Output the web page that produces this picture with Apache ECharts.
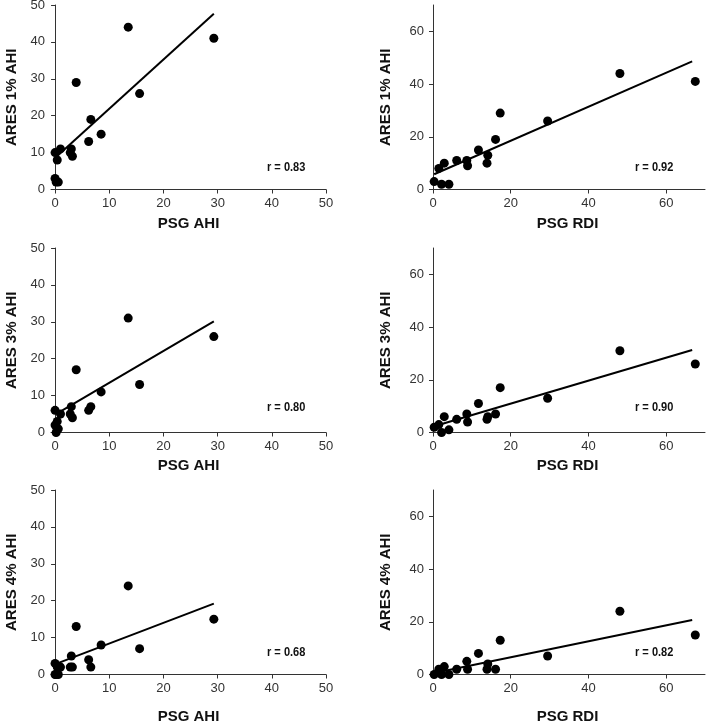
<!DOCTYPE html>
<html>
<head>
<meta charset="utf-8">
<script src="https://cdn.jsdelivr.net/npm/echarts@6/dist/echarts.min.js"></script>
<style>html,body{margin:0;padding:0;background:#fff;}#c{width:706px;height:723px;}</style>
</head>
<body>
<div id="c"></div>
<script>
// Per-subject values
var psgAHI = [13.5, 29.3, 3.9, 15.6, 6.6, 8.5, 6.2, 1.0, 3.0, 0.0, 2.8, 3.2, 0.4, 0.0, 0.2, 0.6];
var psgRDI = [48.1, 67.5, 17.3, 29.5, 16.1, 11.7, 14.1, 6.1, 8.7, 2.9, 13.9, 8.9, 1.5, 0.3, 2.2, 4.1];
var ares1 = [44, 41, 29, 26, 19, 15, 13, 11, 11, 10, 10, 9, 8, 3, 2, 2];
var ares3 = [31, 26, 17, 13, 7, 11, 6, 5, 7, 6, 5, 4, 3, 2, 0, 1];
var ares4 = [24, 15, 13, 7, 2, 8, 4, 2, 5, 3, 2, 2, 2, 0, 0, 0];

// Fit line endpoints [x, y]
var fitAHI1 = [[0.4, 9.1], [29.3, 47.6]];
var fitRDI1 = [[0.3, 5.8], [66.7, 48.6]];
var fitAHI3 = [[0.4, 5.2], [29.3, 30.1]];
var fitRDI3 = [[0.3, 2.4], [66.7, 31.3]];
var fitAHI4 = [[0.4, 3.0], [29.3, 19.2]];
var fitRDI4 = [[0.3, 0.6], [66.7, 20.7]];

var rLabels = ['r = 0.83', 'r = 0.92', 'r = 0.80', 'r = 0.90', 'r = 0.68', 'r = 0.82'];
var yNames = ['ARES 1% AHI', 'ARES 1% AHI', 'ARES 3% AHI', 'ARES 3% AHI', 'ARES 4% AHI', 'ARES 4% AHI'];
var xNames = ['PSG AHI', 'PSG RDI', 'PSG AHI', 'PSG RDI', 'PSG AHI', 'PSG RDI'];
var ticksAHI = [0, 10, 20, 30, 40, 50];
var ticksRDI = [0, 20, 40, 60];

var NARROW = "'Liberation Sans Narrow','Arial Narrow','Liberation Sans',sans-serif";
var BOLD = "'Liberation Sans',Arial,sans-serif";

function pairs(xs, ys) { return xs.map(function (x, i) { return [x, ys[i]]; }); }

var panels = [
  { xs: psgAHI, ys: ares1, fit: fitAHI1, ahi: true },
  { xs: psgRDI, ys: ares1, fit: fitRDI1, ahi: false },
  { xs: psgAHI, ys: ares3, fit: fitAHI3, ahi: true },
  { xs: psgRDI, ys: ares3, fit: fitRDI3, ahi: false },
  { xs: psgAHI, ys: ares4, fit: fitAHI4, ahi: true },
  { xs: psgRDI, ys: ares4, fit: fitRDI4, ahi: false }
];
var tops = [5, 248, 490];
var xNameGaps = [27, 26, 35];
var grids = [], xAxes = [], yAxes = [], series = [], graphics = [];
var rTextY = [168, 408, 653];

panels.forEach(function (p, i) {
  var row = Math.floor(i / 2), col = i % 2;
  grids.push({ left: col ? 430 : 51, width: 275, top: tops[row], height: 184.5, containLabel: false, outerBoundsMode: 'none' });
  var axisCommon = {
    axisLine: { show: true, lineStyle: { color: '#333', width: 1 } },
    axisTick: { show: true, length: 4, inside: false, lineStyle: { color: '#333' } },
    splitLine: { show: false },
    axisLabel: { color: '#333', fontFamily: NARROW, fontSize: 13 },
    nameTextStyle: { color: '#111', fontFamily: BOLD, fontWeight: 'bold', fontSize: 15 }
  };
  var ticks = p.ahi ? ticksAHI : ticksRDI;
  xAxes.push(Object.assign({}, axisCommon, {
    type: 'value', gridIndex: i,
    min: p.ahi ? -0.75 : -0.77, max: p.ahi ? 50 : 70,
    name: xNames[i], nameLocation: 'middle', nameGap: xNameGaps[row],
    axisTick: Object.assign({}, axisCommon.axisTick, { customValues: ticks }),
    axisLabel: Object.assign({}, axisCommon.axisLabel, { customValues: ticks, margin: 7 })
  }));
  yAxes.push(Object.assign({}, axisCommon, {
    type: 'value', gridIndex: i,
    min: 0, max: p.ahi ? 50 : 70,
    name: yNames[i], nameLocation: 'middle', nameGap: col ? 37 : 32,
    axisTick: Object.assign({}, axisCommon.axisTick, { customValues: ticks }),
    axisLabel: Object.assign({}, axisCommon.axisLabel, { customValues: ticks, margin: 6 })
  }));
  series.push({
    type: 'scatter', xAxisIndex: i, yAxisIndex: i,
    data: pairs(p.xs, p.ys), symbol: 'circle', symbolSize: 9,
    itemStyle: { color: '#000', opacity: 1 }, silent: true
  });
  series.push({
    type: 'line', xAxisIndex: i, yAxisIndex: i,
    data: p.fit, symbol: 'none', lineStyle: { color: '#000', width: 2 }, silent: true
  });
  graphics.push({
    type: 'text', left: col ? 635 : 267, top: rTextY[row] - 7, scaleX: 0.85,
    style: { text: rLabels[i], fill: '#111', font: "bold 13px " + NARROW }
  });
});

var chart = echarts.init(document.getElementById('c'), null, { renderer: 'canvas' });
chart.setOption({
  animation: false,
  backgroundColor: '#fff',
  grid: grids, xAxis: xAxes, yAxis: yAxes, series: series, graphic: graphics
});
</script>
</body>
</html>
